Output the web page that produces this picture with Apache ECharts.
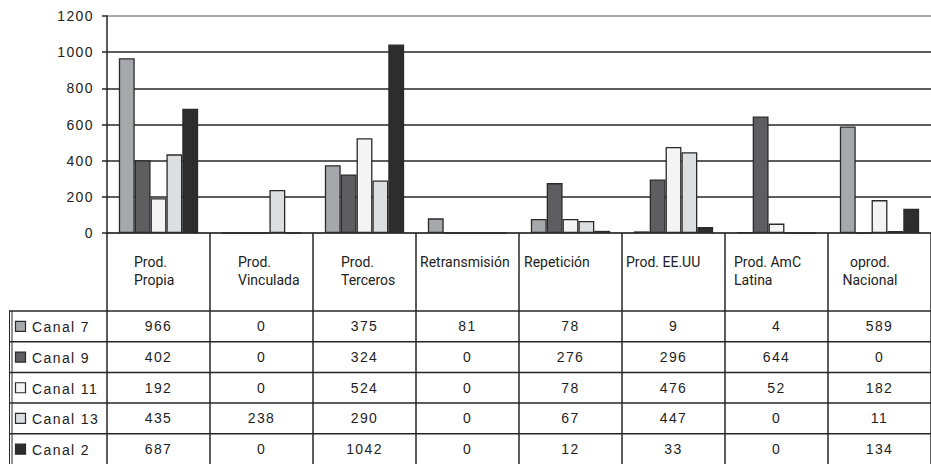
<!DOCTYPE html>
<html>
<head>
<meta charset="utf-8">
<script src="https://cdn.jsdelivr.net/npm/echarts@6/dist/echarts.min.js"></script>
<style>
  html, body { margin: 0; padding: 0; background: #fff; }
  #chart { width: 931px; height: 464px; }
  /* spaced digits for axis labels, table values and legend names */
  #chart text { letter-spacing: 1.4px; }
  /* category headers use a narrow face without extra spacing */
  #chart text[style*="Narrow"] { letter-spacing: 0; }
</style>
</head>
<body>
<div id="chart"></div>
<script>
// Programme hours by production origin, per channel
const categories = ['Prod.\nPropia', 'Prod.\nVinculada', 'Prod.\nTerceros', 'Retransmisión',
                    'Repetición', 'Prod. EE.UU', 'Prod. AmC\nLatina', 'oprod.\nNacional'];
const seriesNames = ['Canal 7', 'Canal 9', 'Canal 11', 'Canal 13', 'Canal 2'];
const canal7  = [966,   0,  375, 81,  78,   9,   4, 589];
const canal9  = [402,   0,  324,  0, 276, 296, 644,   0];
const canal11 = [192,   0,  524,  0,  78, 476,  52, 182];
const canal13 = [435, 238,  290,  0,  67, 447,   0,  11];
const canal2  = [687,   0, 1042,  0,  12,  33,   0, 134];
const yMin = 0, yMax = 1200, yStep = 200;

const seriesValues = [canal7, canal9, canal11, canal13, canal2];
const fills = ['#a7a8ab', '#5e5e60', '#f4f4f4', '#dddee0', '#2e2d2e'];
const ink = '#262626';
const edge = '#8c8c8c';
const bodyFont = '"Liberation Sans", Arial, sans-serif';
const headFont = '"Liberation Sans Narrow", "Roboto", sans-serif';

// table geometry (below the plot)
const tableTop = 311, rowH = 30.7, tableLeft = 10;
const headerLayout = [
  { align: 'left', dx: 27 }, { align: 'left', dx: 28 }, { align: 'left', dx: 28 },
  { align: 'left', dx: 4 },  { align: 'left', dx: 5 },  { align: 'left', dx: 4 },
  { align: 'left', dx: 9 },  { align: 'center', dx: 42 }
];

const chart = echarts.init(document.getElementById('chart'), null, { renderer: 'svg' });

const option = {
  animation: false,
  backgroundColor: '#fff',
  grid: { left: 107, right: 0, top: 16, height: 217, containLabel: false },
  xAxis: {
    type: 'category',
    data: categories,
    axisLine: { show: true, lineStyle: { color: ink, width: 1.5 } },
    axisTick: { show: true, interval: 0, alignWithLabel: false, length: 232,
                lineStyle: { color: ink, width: 1.5 } },
    axisLabel: { show: false },
    splitLine: { show: false }
  },
  yAxis: {
    type: 'value',
    min: yMin, max: yMax, interval: yStep,
    axisLine: { show: true, lineStyle: { color: ink, width: 1.5 } },
    axisTick: { show: true, length: 5, lineStyle: { color: ink, width: 1.5 } },
    axisLabel: { color: '#222', fontSize: 14, fontFamily: bodyFont, margin: 13,
                 formatter: v => String(v) },
    // the outer (top) rule is lighter than the inner gridlines
    splitLine: { show: true, lineStyle: {
      color: [edge, ink, ink, ink, ink, ink, edge], width: 1.5 } }
  },
  series: seriesNames.map((name, i) => ({
    name: name,
    type: 'bar',
    data: seriesValues[i],
    barGap: '0%',
    barCategoryGap: '23%',
    itemStyle: { color: fills[i], borderColor: '#2a2a2a', borderWidth: 1.3 }
  }))
};
chart.setOption(option);

// data table under the plot: headers, legend keys, values and rules
function buildTable() {
  const c0 = chart.convertToPixel({ xAxisIndex: 0 }, 0);
  const c1 = chart.convertToPixel({ xAxisIndex: 0 }, 1);
  const band = c1 - c0;
  const right = c0 - band / 2 + band * categories.length;
  const els = [];

  categories.forEach((cat, j) => {
    const colLeft = c0 - band / 2 + band * j;
    const hl = headerLayout[j];
    els.push({
      type: 'text', silent: true,
      style: { x: colLeft + hl.dx, y: 253, text: cat, align: hl.align, verticalAlign: 'top',
               fill: '#222', fontSize: 14, fontFamily: headFont, lineHeight: 18 }
    });
  });

  seriesNames.forEach((name, i) => {
    const top = tableTop + rowH * i;
    const mid = top + rowH / 2;
    els.push({
      type: 'line', silent: true,
      shape: { x1: tableLeft - 1, y1: top, x2: right, y2: top },
      style: { stroke: ink, lineWidth: 1.5 }
    });
    els.push({
      type: 'rect', silent: true,
      shape: { x: 15.5, y: mid - 5, width: 10, height: 10 },
      style: { fill: fills[i], stroke: '#2a2a2a', lineWidth: 1.2 }
    });
    els.push({
      type: 'text', silent: true,
      style: { x: 32, y: mid + 1, text: name, align: 'left', verticalAlign: 'middle',
               fill: '#222', fontSize: 14, fontFamily: bodyFont }
    });
    seriesValues[i].forEach((v, j) => {
      els.push({
        type: 'text', silent: true,
        style: { x: chart.convertToPixel({ xAxisIndex: 0 }, j), y: mid, text: String(v),
                 align: 'center', verticalAlign: 'middle', fill: '#1e1e1e',
                 fontSize: 14, fontFamily: bodyFont }
      });
    });
  });

  // double outer rule on the legend column
  [9.5, 12].forEach(x => els.push({
    type: 'line', silent: true,
    shape: { x1: x, y1: tableTop, x2: x, y2: 464 },
    style: { stroke: ink, lineWidth: 1 }
  }));

  chart.setOption({ graphic: { elements: els } });
}
buildTable();
</script>
</body>
</html>
